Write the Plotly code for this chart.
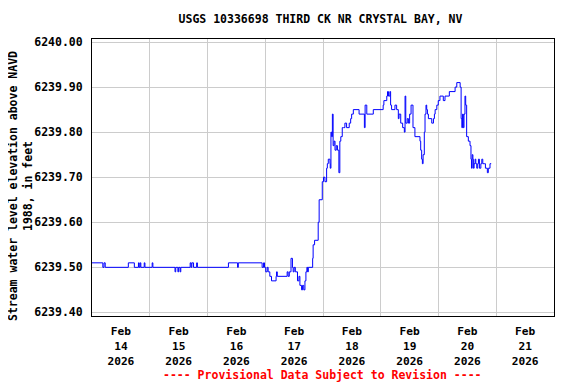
import pandas as pd
import plotly.graph_objects as go

# Hours after 2026-02-14 00:00 at which the reading changes, and the reading (ft)
hours = [0, 4.5, 5.0, 5.5, 15.1, 17.6, 19.3, 19.6, 20.0, 20.3, 21.7, 22.0, 25.0, 25.3,
         34.5, 34.8, 35.7, 36.0, 36.6, 36.9, 40.8, 41.2, 41.5, 42.2, 43.5, 43.8,
         56.7, 60.5, 60.8, 70.7, 71.3, 71.7, 72.2, 72.8, 73.2, 73.9, 74.6, 76.5, 76.7, 77.0,
         81.1, 81.5, 82.0, 82.7, 83.3, 83.6, 84.0, 84.5, 85.4, 86.0, 86.4, 87.1, 87.5, 88.0,
         88.5, 88.9, 89.3, 89.6, 89.9, 91.7, 91.9, 92.5, 94.0, 94.4, 95.7, 96.2, 96.8,
         97.5, 97.8, 98.2, 98.9, 99.0, 99.3, 99.6, 99.9, 100.2, 100.6, 101.0, 101.5, 102.0,
         102.6, 103.0, 103.4, 104.0, 104.5, 105.1, 105.8, 106.9, 107.5, 107.9, 108.6, 111.0,
         113.2, 113.5, 114.2, 116.9, 121.0, 121.3, 122.5, 122.8, 123.2, 123.8, 124.1, 124.5,
         125.9, 126.6, 127.3, 127.6, 128.3, 129.1, 129.8, 130.1, 130.4, 131.0, 131.5, 132.0,
         132.6, 133.0, 133.4, 134.2, 136.3, 136.6, 137.0, 137.3, 137.6, 138.1, 138.4, 138.8,
         139.1, 139.4, 139.8, 141.2, 141.9, 142.3, 142.6, 143.3, 143.9, 144.6, 146.0, 146.7,
         148.5, 150.9, 151.6, 153.0, 153.4, 153.7, 154.0, 154.3, 154.6, 155.0, 155.3, 155.7,
         156.4, 157.1, 157.5, 157.7, 158.0, 158.3, 158.5, 158.8, 159.2, 159.5, 159.9, 160.3,
         160.6, 161.0, 161.6, 162.0, 162.4, 163.0, 163.5, 164.3, 164.7, 165.4, 165.9]
stage = [6239.51, 6239.50, 6239.51, 6239.50, 6239.51, 6239.50, 6239.51, 6239.50, 6239.51, 6239.50, 6239.51, 6239.50, 6239.51, 6239.50,
         6239.49, 6239.50, 6239.49, 6239.50, 6239.49, 6239.50, 6239.51, 6239.50, 6239.51, 6239.50, 6239.51, 6239.50,
         6239.51, 6239.50, 6239.51, 6239.50, 6239.51, 6239.50, 6239.49, 6239.50, 6239.49, 6239.48, 6239.47, 6239.48, 6239.49, 6239.48,
         6239.49, 6239.48, 6239.49, 6239.52, 6239.50, 6239.49, 6239.50, 6239.49, 6239.47, 6239.48, 6239.46, 6239.45, 6239.46, 6239.45,
         6239.47, 6239.49, 6239.50, 6239.49, 6239.50, 6239.52, 6239.55, 6239.56, 6239.60, 6239.65, 6239.69, 6239.70, 6239.69,
         6239.72, 6239.73, 6239.74, 6239.73, 6239.72, 6239.80, 6239.79, 6239.84, 6239.77, 6239.78, 6239.76, 6239.77, 6239.76,
         6239.71, 6239.78, 6239.79, 6239.81, 6239.81, 6239.82, 6239.81, 6239.82, 6239.83, 6239.84, 6239.85, 6239.84,
         6239.81, 6239.86, 6239.84, 6239.85, 6239.86, 6239.87, 6239.88, 6239.89, 6239.88, 6239.89, 6239.86, 6239.85,
         6239.86, 6239.85, 6239.83, 6239.84, 6239.82, 6239.81, 6239.80, 6239.88, 6239.82, 6239.83, 6239.82, 6239.84,
         6239.86, 6239.86, 6239.81, 6239.79, 6239.78, 6239.76, 6239.74, 6239.73, 6239.75, 6239.80, 6239.84, 6239.86,
         6239.85, 6239.84, 6239.83, 6239.82, 6239.83, 6239.84, 6239.85, 6239.86, 6239.87, 6239.88, 6239.87, 6239.88,
         6239.89, 6239.90, 6239.91, 6239.90, 6239.83, 6239.81, 6239.84, 6239.81, 6239.84, 6239.88, 6239.86, 6239.79,
         6239.78, 6239.77, 6239.74, 6239.72, 6239.75, 6239.74, 6239.72, 6239.73, 6239.74, 6239.73, 6239.72, 6239.73,
         6239.74, 6239.72, 6239.73, 6239.74, 6239.73, 6239.73, 6239.72, 6239.71, 6239.72, 6239.73, 6239.73]

start = pd.Timestamp("2026-02-14 00:00")
times = [start + pd.Timedelta(hours=h) for h in hours]

title_text = "USGS 10336698 THIRD CK NR CRYSTAL BAY, NV"
ytitle = "Stream water level elevation above NAVD<br>1988, in feet"
footer = "---- Provisional Data Subject to Revision ----"
FONT = "DejaVu Sans Mono"

# The page body has an 8px margin, so the figure is drawn 8px in from the top-left.
W, H = 568, 376
OFF = 8

fig = go.Figure()
fig.add_trace(go.Scatter(x=times, y=stage, mode="lines",
                         line=dict(color="#0000FF", width=1, shape="hv"),
                         showlegend=False, hoverinfo="skip"))

fig.update_layout(
    width=W, height=H,
    paper_bgcolor="white", plot_bgcolor="white",
    margin=dict(l=92.3 - OFF, r=W - (554.4 - OFF), t=39.3 - OFF, b=H - (316 - OFF), autoexpand=False),
    font=dict(family=FONT, size=11.5, color="black"),
    title=dict(text="<b>" + title_text + "</b>", x=(320.5 - OFF) / W, xref="container", xanchor="center",
               y=1 - (19 - OFF) / H, yref="container", yanchor="middle",
               font=dict(family=FONT, size=11.5, color="black")),
)
fig.update_xaxes(
    range=["2026-02-14 00:00", "2026-02-22 00:00"],
    dtick=86400000, tick0="2026-02-14", ticklabelmode="period",
    tickformat="<b>%b</b><br><b>%d</b><br><b>%Y</b>",
    showgrid=True, gridcolor="#CCCCCC", gridwidth=1,
    showline=True, linecolor="black", linewidth=1, mirror=True,
    ticks="", zeroline=False, automargin=False, ticklabelstandoff=5,
    tickfont=dict(family=FONT, size=11.2, color="black"),
)
fig.update_yaxes(
    range=[6239.392, 6240.0067],
    dtick=0.1, tick0=6239.4, tickformat=".2f",
    showgrid=True, gridcolor="#CCCCCC", gridwidth=1,
    showline=True, linecolor="black", linewidth=1, mirror=True,
    ticks="", zeroline=False, ticklabelstandoff=6, automargin=False,
    tickfont=dict(family=FONT, size=11.5, color="black", weight="bold"),
)
fig.add_annotation(text="<b>" + ytitle + "</b>", xref="paper", yref="paper",
                   x=(21.5 - 92.3) / 462, y=0.47, xanchor="center", yanchor="middle",
                   textangle=-90, showarrow=False,
                   font=dict(family=FONT, size=11.5, color="black"))
fig.add_annotation(text="<b>" + footer + "</b>", xref="paper", yref="paper",
                   x=(322.5 - 92.3) / 462, y=(316 - 375) / 276.7, xanchor="center", yanchor="middle",
                   showarrow=False, font=dict(family=FONT, size=11.5, color="#FF0000"))

fig.write_html("out.html")
